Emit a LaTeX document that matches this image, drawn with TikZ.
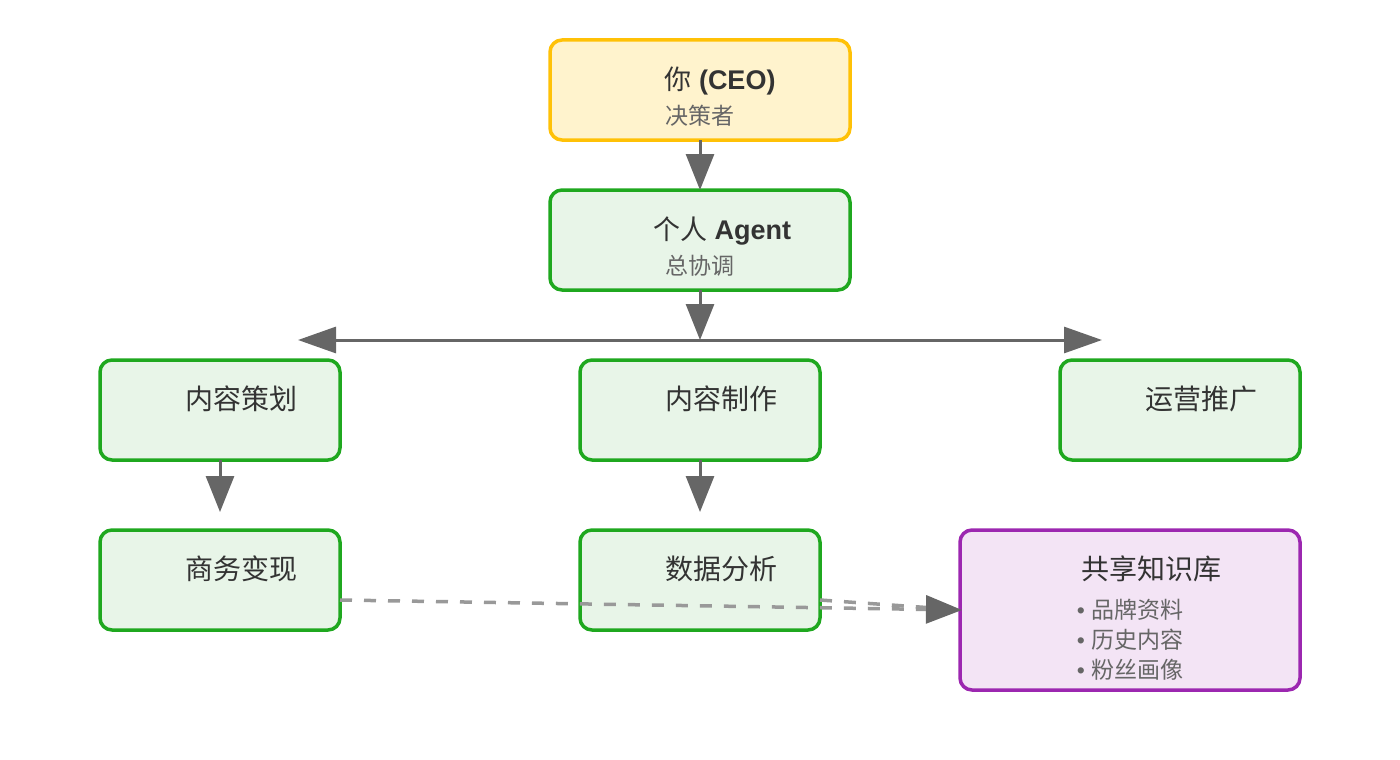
\documentclass[tikz,border=0pt]{standalone}
\usepackage{fontspec}
\setmainfont{Liberation Sans}
\newfontfamily\cjk{Noto Sans CJK SC}
\usetikzlibrary{arrows.meta}
\begin{document}
\begin{tikzpicture}[x=1pt,y=-1pt,
 gb/.style={draw={rgb,255:red,31;green,168;blue,31},fill={rgb,255:red,232;green,245;blue,232},line width=3.5pt,rounded corners=12pt},
 ttl/.style={font=\fontsize{27}{30}\selectfont,text={rgb,255:red,51;green,51;blue,51},anchor=center},
 sub/.style={font=\cjk\fontsize{23}{26}\selectfont,text={rgb,255:red,102;green,102;blue,102},anchor=center},
 arr/.style={draw={rgb,255:red,102;green,102;blue,102},line width=3pt,-{Triangle[length=36pt,width=28pt]}},
 dsh/.style={draw={rgb,255:red,153;green,153;blue,153},line width=3.5pt,dash pattern=on 12pt off 12pt}]
\useasboundingbox (0,0) rectangle (1400,760);
\draw[draw={rgb,255:red,255;green,193;blue,7},fill={rgb,255:red,255;green,243;blue,205},line width=3.5pt,rounded corners=12pt] (550,40) rectangle (850,140);
\node[ttl] (ceo) at (720,81) {{\cjk 你} \textbf{(CEO)}};
\node[sub] (ceos) at (700,116) {决策者};
\draw[gb] (550,190) rectangle (850,290);
\node[ttl] (ag) at (722,231) {{\cjk 个人} \textbf{Agent}};
\node[sub] at (700,266) {总协调};
\draw[gb] (100,360) rectangle (340,460);
\node[ttl,font=\cjk\fontsize{28}{30}\selectfont] at (241,399) {内容策划};
\draw[gb] (580,360) rectangle (820,460);
\node[ttl,font=\cjk\fontsize{28}{30}\selectfont] at (721,399) {内容制作};
\draw[gb] (1060,360) rectangle (1300,460);
\node[ttl,font=\cjk\fontsize{28}{30}\selectfont] at (1201,399) {运营推广};
\draw[gb] (100,530) rectangle (340,630);
\node[ttl,font=\cjk\fontsize{28}{30}\selectfont] at (241,569) {商务变现};
\draw[gb] (580,530) rectangle (820,630);
\node[ttl,font=\cjk\fontsize{28}{30}\selectfont] at (721,569) {数据分析};
\draw[draw={rgb,255:red,156;green,39;blue,176},fill={rgb,255:red,243;green,228;blue,245},line width=3.5pt,rounded corners=12pt] (960,530) rectangle (1300,690);
\node[ttl,font=\cjk\fontsize{28}{30}\selectfont] at (1151,569) {共享知识库};
\node[sub] at (1130,610) {{\rmfamily •}\hspace{6pt}品牌资料};
\node[sub] at (1130,640) {{\rmfamily •}\hspace{6pt}历史内容};
\node[sub] at (1130,670) {{\rmfamily •}\hspace{6pt}粉丝画像};
\coordinate (kb) at (962,610);
\draw[dsh] (340,600) -- (kb);
\draw[dsh] (820,600) -- (kb);
\draw[arr,dash pattern=] (930,609.5) -- (kb);
\coordinate (a1) at (700,140); \coordinate (a2) at (700,190);
\draw[arr] (a1) -- (a2);
\coordinate (b1) at (700,290); \coordinate (b2) at (700,340);
\draw[arr] (b1) -- (b2);
\coordinate (hl) at (298,340); \coordinate (hr) at (1102,340);
\draw[arr,{Triangle[length=38pt,width=26pt]}-{Triangle[length=38pt,width=26pt]}] (hl) -- (hr);
\coordinate (c1) at (220,460); \coordinate (c2) at (220,512);
\draw[arr] (c1) -- (c2);
\coordinate (d1) at (700,460); \coordinate (d2) at (700,512);
\draw[arr] (d1) -- (d2);
\end{tikzpicture}
\end{document}
